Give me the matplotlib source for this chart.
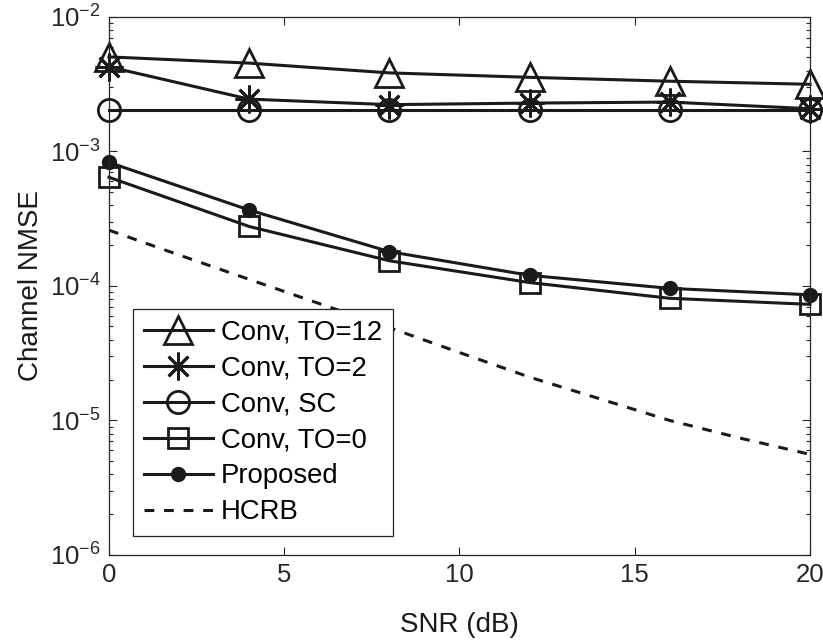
import matplotlib
matplotlib.use("Agg")
import matplotlib.pyplot as plt
from matplotlib.ticker import LogLocator, NullFormatter

plt.rcParams["font.family"] = ["Liberation Sans", "DejaVu Sans"]
plt.rcParams["mathtext.fontset"] = "custom"
plt.rcParams["mathtext.rm"] = "Liberation Sans"

INK = "#1a1a1a"
AXIS = "#262626"

snr = [0, 4, 8, 12, 16, 20]
conv_to12 = [5.05e-3, 4.54e-3, 3.84e-3, 3.56e-3, 3.33e-3, 3.16e-3]
conv_to2 = [4.26e-3, 2.45e-3, 2.23e-3, 2.29e-3, 2.33e-3, 2.08e-3]
conv_sc = [2.02e-3, 2.02e-3, 2.02e-3, 2.02e-3, 2.02e-3, 2.02e-3]
conv_to0 = [6.43e-4, 2.77e-4, 1.54e-4, 1.06e-4, 8.1e-5, 7.3e-5]
proposed = [8.3e-4, 3.67e-4, 1.8e-4, 1.2e-4, 9.6e-5, 8.6e-5]

snr_bound = [0, 2, 4, 6, 8, 10, 12, 14, 16, 18, 20]
hcrb = [2.6e-4, 1.7e-4, 1.12e-4, 7.4e-5, 4.9e-5, 3.2e-5, 2.1e-5, 1.45e-5, 1.0e-5, 7.4e-6, 5.6e-6]

labels = ["Conv, TO=12", "Conv, TO=2", "Conv, SC", "Conv, TO=0", "Proposed", "HCRB"]

fig = plt.figure(figsize=(8.23, 6.41), dpi=100)
ax = fig.add_axes([0.1324, 0.1342, 0.8518, 0.8393])

lw = 2.2
mew = 2.0
style = dict(color=INK, lw=lw, mew=mew, clip_on=False)
ax.semilogy(snr, conv_to12, marker="^", ms=20, mfc="none", label=labels[0], **style)
ax.semilogy(snr, conv_to2, marker=(8, 2, 0), ms=20, label=labels[1], **style)
ax.semilogy(snr, conv_sc, marker="o", ms=16, mfc="none", label=labels[2], **style)
ax.semilogy(snr, conv_to0, marker="s", ms=15, mfc="none", label=labels[3], **style)
ax.semilogy(snr, proposed, marker="o", ms=9, mfc=INK, label=labels[4], **style)
ax.semilogy(snr_bound, hcrb, color=INK, lw=lw, ls=(0, (3.2, 3.2)), label=labels[5])

ax.set_xlim(0, 20)
ax.set_ylim(1e-6, 1e-2)
ax.set_xticks([0, 5, 10, 15, 20])
ax.yaxis.set_major_locator(LogLocator(base=10, numticks=10))
ax.yaxis.set_minor_locator(LogLocator(base=10, subs=range(2, 10), numticks=20))
ax.yaxis.set_minor_formatter(NullFormatter())

ax.tick_params(which="both", direction="in", top=True, right=True, colors=AXIS, labelsize=18.5)
ax.tick_params(which="major", length=6, width=0.8, pad=6)
ax.tick_params(which="minor", length=3, width=0.8)
for sp in ax.spines.values():
    sp.set_color(AXIS)
    sp.set_linewidth(0.9)

ax.set_xlabel("SNR (dB)", fontsize=20, color=INK, labelpad=18)
ax.set_ylabel("Channel NMSE", fontsize=20, color=INK, labelpad=4)

leg = ax.legend(
    loc="lower left",
    bbox_to_anchor=(0.034, 0.035),
    fontsize=19.8,
    frameon=True,
    fancybox=False,
    framealpha=1,
    edgecolor=AXIS,
    handlelength=2.5,
    handletextpad=0.3,
    labelspacing=0.36,
    borderpad=0.4,
    borderaxespad=0,
)
leg.get_frame().set_linewidth(0.9)

fig.savefig("out.png", dpi=100)
